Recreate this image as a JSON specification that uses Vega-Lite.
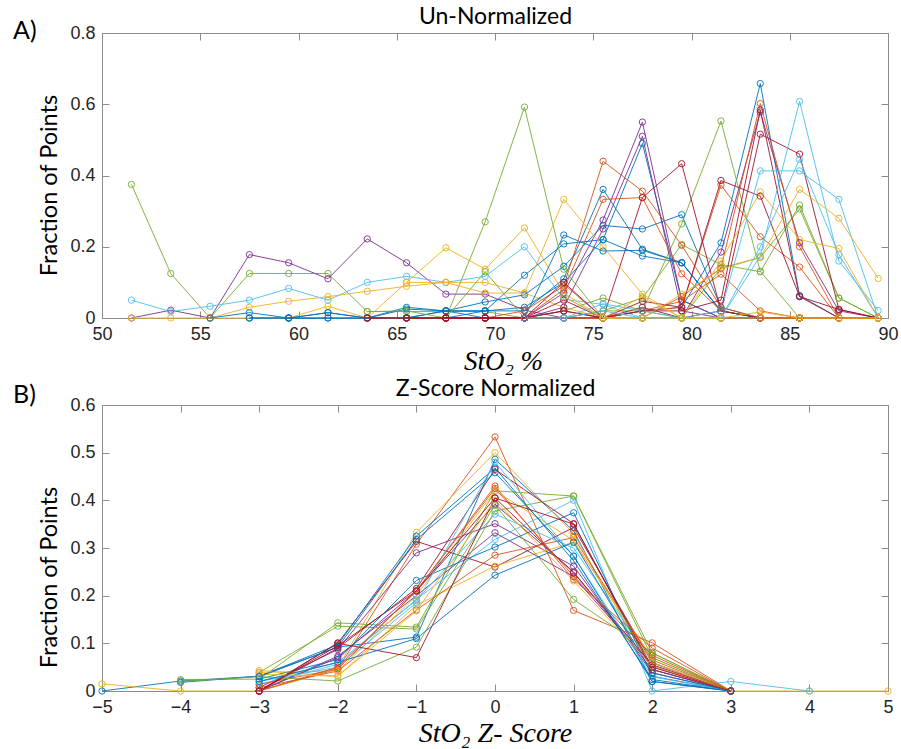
{
"$schema": "https://vega.github.io/schema/vega-lite/v6.json",
"background": "white",
"padding": {"left": 12, "top": 5, "right": 8, "bottom": 5},
"spacing": 2,
"resolve": {"scale": {"color": "independent"}},
"config": {
 "view": {"stroke": "#8c8c8c", "strokeWidth": 1},
 "axis": {"labelFont": "Liberation Sans", "labelFontSize": 18, "labelColor": "#262626", "tickColor": "#8c8c8c", "domain": false, "grid": false, "titleColor": "#000000", "labelFlush": false}
},
"datasets": {
"top": [
{"s":"G1","x":51.5,"y":0.375},{"s":"G1","x":53.5,"y":0.125},{"s":"G1","x":55.5,"y":0},{"s":"G1","x":57.5,"y":0.125},{"s":"G1","x":59.5,"y":0.125},{"s":"G1","x":61.5,"y":0.125},{"s":"G1","x":63.5,"y":0.018},{"s":"G1","x":65.5,"y":0.018},{"s":"G1","x":67.5,"y":0.018},{"s":"G1","x":69.5,"y":0.018},{"s":"G1","x":71.5,"y":0},{"s":"G1","x":73.5,"y":0},
{"s":"P1","x":51.5,"y":0},{"s":"P1","x":53.5,"y":0.022},{"s":"P1","x":55.5,"y":0},{"s":"P1","x":57.5,"y":0.178},{"s":"P1","x":59.5,"y":0.155},{"s":"P1","x":61.5,"y":0.11},{"s":"P1","x":63.5,"y":0.222},{"s":"P1","x":65.5,"y":0.155},{"s":"P1","x":67.5,"y":0.067},{"s":"P1","x":69.5,"y":0.067},{"s":"P1","x":71.5,"y":0.022},{"s":"P1","x":73.5,"y":0},{"s":"P1","x":75.5,"y":0},
{"s":"L1","x":51.5,"y":0.05},{"s":"L1","x":53.5,"y":0.018},{"s":"L1","x":55.5,"y":0.033},{"s":"L1","x":57.5,"y":0.05},{"s":"L1","x":59.5,"y":0.083},{"s":"L1","x":61.5,"y":0.05},{"s":"L1","x":63.5,"y":0.1},{"s":"L1","x":65.5,"y":0.117},{"s":"L1","x":67.5,"y":0.1},{"s":"L1","x":69.5,"y":0.117},{"s":"L1","x":71.5,"y":0.2},{"s":"L1","x":73.5,"y":0.053},{"s":"L1","x":75.5,"y":0.038},{"s":"L1","x":77.5,"y":0},{"s":"L1","x":79.5,"y":0},{"s":"L1","x":81.5,"y":0},{"s":"L1","x":83.5,"y":0},{"s":"L1","x":85.5,"y":0},
{"s":"Y1","x":51.5,"y":0},{"s":"Y1","x":53.5,"y":0},{"s":"Y1","x":55.5,"y":0},{"s":"Y1","x":57.5,"y":0.03},{"s":"Y1","x":59.5,"y":0.047},{"s":"Y1","x":61.5,"y":0.06},{"s":"Y1","x":63.5,"y":0.075},{"s":"Y1","x":65.5,"y":0.089},{"s":"Y1","x":67.5,"y":0.1},{"s":"Y1","x":69.5,"y":0.1},{"s":"Y1","x":71.5,"y":0.07},{"s":"Y1","x":73.5,"y":0.03},{"s":"Y1","x":75.5,"y":0},{"s":"Y1","x":77.5,"y":0},
{"s":"Y2","x":55.5,"y":0},{"s":"Y2","x":57.5,"y":0},{"s":"Y2","x":59.5,"y":0},{"s":"Y2","x":61.5,"y":0.033},{"s":"Y2","x":63.5,"y":0},{"s":"Y2","x":65.5,"y":0.1},{"s":"Y2","x":67.5,"y":0.197},{"s":"Y2","x":69.5,"y":0.137},{"s":"Y2","x":71.5,"y":0.253},{"s":"Y2","x":73.5,"y":0.07},{"s":"Y2","x":75.5,"y":0},{"s":"Y2","x":77.5,"y":0},{"s":"Y2","x":79.5,"y":0},
{"s":"B1","x":55.5,"y":0},{"s":"B1","x":57.5,"y":0.015},{"s":"B1","x":59.5,"y":0},{"s":"B1","x":61.5,"y":0.015},{"s":"B1","x":63.5,"y":0},{"s":"B1","x":65.5,"y":0.03},{"s":"B1","x":67.5,"y":0.02},{"s":"B1","x":69.5,"y":0.02},{"s":"B1","x":71.5,"y":0.02},{"s":"B1","x":73.5,"y":0.11},{"s":"B1","x":75.5,"y":0.361},{"s":"B1","x":77.5,"y":0.193},{"s":"B1","x":79.5,"y":0.155},{"s":"B1","x":81.5,"y":0.02},{"s":"B1","x":83.5,"y":0},{"s":"B1","x":85.5,"y":0},
{"s":"B2","x":57.5,"y":0},{"s":"B2","x":59.5,"y":0},{"s":"B2","x":61.5,"y":0},{"s":"B2","x":63.5,"y":0},{"s":"B2","x":65.5,"y":0},{"s":"B2","x":67.5,"y":0.02},{"s":"B2","x":69.5,"y":0.045},{"s":"B2","x":71.5,"y":0.065},{"s":"B2","x":73.5,"y":0.145},{"s":"B2","x":75.5,"y":0.26},{"s":"B2","x":77.5,"y":0.25},{"s":"B2","x":79.5,"y":0.29},{"s":"B2","x":81.5,"y":0.03},{"s":"B2","x":83.5,"y":0},{"s":"B2","x":85.5,"y":0},{"s":"B2","x":87.5,"y":0},
{"s":"B3","x":57.5,"y":0},{"s":"B3","x":59.5,"y":0},{"s":"B3","x":61.5,"y":0.015},{"s":"B3","x":63.5,"y":0},{"s":"B3","x":65.5,"y":0.025},{"s":"B3","x":67.5,"y":0.02},{"s":"B3","x":69.5,"y":0.02},{"s":"B3","x":71.5,"y":0.12},{"s":"B3","x":73.5,"y":0.208},{"s":"B3","x":75.5,"y":0.22},{"s":"B3","x":77.5,"y":0.174},{"s":"B3","x":79.5,"y":0.155},{"s":"B3","x":81.5,"y":0.02},{"s":"B3","x":83.5,"y":0},{"s":"B3","x":85.5,"y":0},
{"s":"B4","x":59.5,"y":0},{"s":"B4","x":61.5,"y":0},{"s":"B4","x":63.5,"y":0},{"s":"B4","x":65.5,"y":0},{"s":"B4","x":67.5,"y":0.02},{"s":"B4","x":69.5,"y":0},{"s":"B4","x":71.5,"y":0},{"s":"B4","x":73.5,"y":0.233},{"s":"B4","x":75.5,"y":0.188},{"s":"B4","x":77.5,"y":0.19},{"s":"B4","x":79.5,"y":0.155},{"s":"B4","x":81.5,"y":0.02},{"s":"B4","x":83.5,"y":0},{"s":"B4","x":85.5,"y":0},
{"s":"B5","x":63.5,"y":0},{"s":"B5","x":65.5,"y":0},{"s":"B5","x":67.5,"y":0},{"s":"B5","x":69.5,"y":0.02},{"s":"B5","x":71.5,"y":0.03},{"s":"B5","x":73.5,"y":0.1},{"s":"B5","x":75.5,"y":0.22},{"s":"B5","x":77.5,"y":0.49},{"s":"B5","x":79.5,"y":0.05},{"s":"B5","x":81.5,"y":0},{"s":"B5","x":83.5,"y":0},{"s":"B5","x":85.5,"y":0},
{"s":"B6","x":65.5,"y":0},{"s":"B6","x":67.5,"y":0},{"s":"B6","x":69.5,"y":0},{"s":"B6","x":71.5,"y":0},{"s":"B6","x":73.5,"y":0},{"s":"B6","x":75.5,"y":0},{"s":"B6","x":77.5,"y":0.02},{"s":"B6","x":79.5,"y":0.03},{"s":"B6","x":81.5,"y":0.211},{"s":"B6","x":83.5,"y":0.658},{"s":"B6","x":85.5,"y":0.063},{"s":"B6","x":87.5,"y":0},{"s":"B6","x":89.5,"y":0},
{"s":"G2","x":63.5,"y":0},{"s":"G2","x":65.5,"y":0},{"s":"G2","x":67.5,"y":0},{"s":"G2","x":69.5,"y":0.27},{"s":"G2","x":71.5,"y":0.592},{"s":"G2","x":73.5,"y":0.137},{"s":"G2","x":75.5,"y":0},{"s":"G2","x":77.5,"y":0},{"s":"G2","x":79.5,"y":0},{"s":"G2","x":81.5,"y":0},{"s":"G2","x":83.5,"y":0},
{"s":"G3","x":63.5,"y":0.018},{"s":"G3","x":65.5,"y":0.02},{"s":"G3","x":67.5,"y":0},{"s":"G3","x":69.5,"y":0.13},{"s":"G3","x":71.5,"y":0},{"s":"G3","x":73.5,"y":0.02},{"s":"G3","x":75.5,"y":0.056},{"s":"G3","x":77.5,"y":0.02},{"s":"G3","x":79.5,"y":0.264},{"s":"G3","x":81.5,"y":0.553},{"s":"G3","x":83.5,"y":0.131},{"s":"G3","x":85.5,"y":0},{"s":"G3","x":87.5,"y":0},{"s":"G3","x":89.5,"y":0},
{"s":"G4","x":65.5,"y":0},{"s":"G4","x":67.5,"y":0},{"s":"G4","x":69.5,"y":0},{"s":"G4","x":71.5,"y":0},{"s":"G4","x":73.5,"y":0},{"s":"G4","x":75.5,"y":0.02},{"s":"G4","x":77.5,"y":0.056},{"s":"G4","x":79.5,"y":0.206},{"s":"G4","x":81.5,"y":0.15},{"s":"G4","x":83.5,"y":0.13},{"s":"G4","x":85.5,"y":0.317},{"s":"G4","x":87.5,"y":0.056},{"s":"G4","x":89.5,"y":0},
{"s":"G5","x":69.5,"y":0},{"s":"G5","x":71.5,"y":0},{"s":"G5","x":73.5,"y":0},{"s":"G5","x":75.5,"y":0.02},{"s":"G5","x":77.5,"y":0.02},{"s":"G5","x":79.5,"y":0},{"s":"G5","x":81.5,"y":0.14},{"s":"G5","x":83.5,"y":0.17},{"s":"G5","x":85.5,"y":0.306},{"s":"G5","x":87.5,"y":0.056},{"s":"G5","x":89.5,"y":0},
{"s":"P2","x":67.5,"y":0},{"s":"P2","x":69.5,"y":0},{"s":"P2","x":71.5,"y":0},{"s":"P2","x":73.5,"y":0.07},{"s":"P2","x":75.5,"y":0.275},{"s":"P2","x":77.5,"y":0.55},{"s":"P2","x":79.5,"y":0.05},{"s":"P2","x":81.5,"y":0},{"s":"P2","x":83.5,"y":0},{"s":"P2","x":85.5,"y":0},{"s":"P2","x":87.5,"y":0},
{"s":"P3","x":67.5,"y":0},{"s":"P3","x":69.5,"y":0},{"s":"P3","x":71.5,"y":0},{"s":"P3","x":73.5,"y":0.03},{"s":"P3","x":75.5,"y":0.25},{"s":"P3","x":77.5,"y":0.51},{"s":"P3","x":79.5,"y":0.02},{"s":"P3","x":81.5,"y":0},{"s":"P3","x":83.5,"y":0},{"s":"P3","x":85.5,"y":0},
{"s":"P4","x":71.5,"y":0},{"s":"P4","x":73.5,"y":0},{"s":"P4","x":75.5,"y":0},{"s":"P4","x":77.5,"y":0},{"s":"P4","x":79.5,"y":0},{"s":"P4","x":81.5,"y":0.185},{"s":"P4","x":83.5,"y":0.578},{"s":"P4","x":85.5,"y":0.211},{"s":"P4","x":87.5,"y":0.02},{"s":"P4","x":89.5,"y":0},
{"s":"O1","x":67.5,"y":0},{"s":"O1","x":69.5,"y":0},{"s":"O1","x":71.5,"y":0.02},{"s":"O1","x":73.5,"y":0.09},{"s":"O1","x":75.5,"y":0.44},{"s":"O1","x":77.5,"y":0.356},{"s":"O1","x":79.5,"y":0.204},{"s":"O1","x":81.5,"y":0.03},{"s":"O1","x":83.5,"y":0},{"s":"O1","x":85.5,"y":0},
{"s":"O2","x":67.5,"y":0},{"s":"O2","x":69.5,"y":0},{"s":"O2","x":71.5,"y":0},{"s":"O2","x":73.5,"y":0.08},{"s":"O2","x":75.5,"y":0.333},{"s":"O2","x":77.5,"y":0.338},{"s":"O2","x":79.5,"y":0.124},{"s":"O2","x":81.5,"y":0.02},{"s":"O2","x":83.5,"y":0},{"s":"O2","x":85.5,"y":0},
{"s":"O3","x":69.5,"y":0},{"s":"O3","x":71.5,"y":0},{"s":"O3","x":73.5,"y":0},{"s":"O3","x":75.5,"y":0},{"s":"O3","x":77.5,"y":0.02},{"s":"O3","x":79.5,"y":0.03},{"s":"O3","x":81.5,"y":0.373},{"s":"O3","x":83.5,"y":0.228},{"s":"O3","x":85.5,"y":0.143},{"s":"O3","x":87.5,"y":0},{"s":"O3","x":89.5,"y":0},
{"s":"O4","x":71.5,"y":0},{"s":"O4","x":73.5,"y":0},{"s":"O4","x":75.5,"y":0},{"s":"O4","x":77.5,"y":0},{"s":"O4","x":79.5,"y":0.06},{"s":"O4","x":81.5,"y":0.14},{"s":"O4","x":83.5,"y":0.602},{"s":"O4","x":85.5,"y":0.2},{"s":"O4","x":87.5,"y":0},{"s":"O4","x":89.5,"y":0},
{"s":"O5","x":73.5,"y":0.095},{"s":"O5","x":75.5,"y":0},{"s":"O5","x":77.5,"y":0.02},{"s":"O5","x":79.5,"y":0.047},{"s":"O5","x":81.5,"y":0.123},{"s":"O5","x":83.5,"y":0.02},{"s":"O5","x":85.5,"y":0},{"s":"O5","x":87.5,"y":0},{"s":"O5","x":89.5,"y":0},
{"s":"R1","x":63.5,"y":0},{"s":"R1","x":65.5,"y":0},{"s":"R1","x":67.5,"y":0},{"s":"R1","x":69.5,"y":0},{"s":"R1","x":71.5,"y":0},{"s":"R1","x":73.5,"y":0.02},{"s":"R1","x":75.5,"y":0},{"s":"R1","x":77.5,"y":0.338},{"s":"R1","x":79.5,"y":0.433},{"s":"R1","x":81.5,"y":0.02},{"s":"R1","x":83.5,"y":0},{"s":"R1","x":85.5,"y":0},{"s":"R1","x":87.5,"y":0},{"s":"R1","x":89.5,"y":0},
{"s":"R2","x":63.5,"y":0},{"s":"R2","x":65.5,"y":0},{"s":"R2","x":67.5,"y":0},{"s":"R2","x":69.5,"y":0},{"s":"R2","x":71.5,"y":0},{"s":"R2","x":73.5,"y":0.1},{"s":"R2","x":75.5,"y":0},{"s":"R2","x":77.5,"y":0.047},{"s":"R2","x":79.5,"y":0.03},{"s":"R2","x":81.5,"y":0.386},{"s":"R2","x":83.5,"y":0.342},{"s":"R2","x":85.5,"y":0.06},{"s":"R2","x":87.5,"y":0},{"s":"R2","x":89.5,"y":0},
{"s":"R3","x":65.5,"y":0},{"s":"R3","x":67.5,"y":0},{"s":"R3","x":69.5,"y":0},{"s":"R3","x":71.5,"y":0},{"s":"R3","x":73.5,"y":0.02},{"s":"R3","x":75.5,"y":0},{"s":"R3","x":77.5,"y":0.02},{"s":"R3","x":79.5,"y":0.02},{"s":"R3","x":81.5,"y":0.05},{"s":"R3","x":83.5,"y":0.584},{"s":"R3","x":85.5,"y":0.06},{"s":"R3","x":87.5,"y":0.024},{"s":"R3","x":89.5,"y":0},
{"s":"R4","x":67.5,"y":0},{"s":"R4","x":69.5,"y":0},{"s":"R4","x":71.5,"y":0},{"s":"R4","x":73.5,"y":0.05},{"s":"R4","x":75.5,"y":0},{"s":"R4","x":77.5,"y":0.03},{"s":"R4","x":79.5,"y":0},{"s":"R4","x":81.5,"y":0.02},{"s":"R4","x":83.5,"y":0.516},{"s":"R4","x":85.5,"y":0.46},{"s":"R4","x":87.5,"y":0.024},{"s":"R4","x":89.5,"y":0},
{"s":"L2","x":71.5,"y":0},{"s":"L2","x":73.5,"y":0},{"s":"L2","x":75.5,"y":0.02},{"s":"L2","x":77.5,"y":0},{"s":"L2","x":79.5,"y":0},{"s":"L2","x":81.5,"y":0},{"s":"L2","x":83.5,"y":0.174},{"s":"L2","x":85.5,"y":0.608},{"s":"L2","x":87.5,"y":0.16},{"s":"L2","x":89.5,"y":0.021},
{"s":"L3","x":73.5,"y":0.06},{"s":"L3","x":75.5,"y":0},{"s":"L3","x":77.5,"y":0},{"s":"L3","x":79.5,"y":0},{"s":"L3","x":81.5,"y":0.02},{"s":"L3","x":83.5,"y":0.413},{"s":"L3","x":85.5,"y":0.413},{"s":"L3","x":87.5,"y":0.333},{"s":"L3","x":89.5,"y":0},
{"s":"L4","x":73.5,"y":0},{"s":"L4","x":75.5,"y":0.04},{"s":"L4","x":77.5,"y":0.02},{"s":"L4","x":79.5,"y":0},{"s":"L4","x":81.5,"y":0},{"s":"L4","x":83.5,"y":0.2},{"s":"L4","x":85.5,"y":0.445},{"s":"L4","x":87.5,"y":0.178},{"s":"L4","x":89.5,"y":0},
{"s":"Y3","x":65.5,"y":0.1},{"s":"Y3","x":67.5,"y":0.1},{"s":"Y3","x":69.5,"y":0.07},{"s":"Y3","x":71.5,"y":0.07},{"s":"Y3","x":73.5,"y":0.333},{"s":"Y3","x":75.5,"y":0.2},{"s":"Y3","x":77.5,"y":0.067},{"s":"Y3","x":79.5,"y":0},{"s":"Y3","x":81.5,"y":0},{"s":"Y3","x":83.5,"y":0},{"s":"Y3","x":85.5,"y":0},{"s":"Y3","x":87.5,"y":0},{"s":"Y3","x":89.5,"y":0},
{"s":"Y4","x":73.5,"y":0.06},{"s":"Y4","x":75.5,"y":0},{"s":"Y4","x":77.5,"y":0.06},{"s":"Y4","x":79.5,"y":0},{"s":"Y4","x":81.5,"y":0.16},{"s":"Y4","x":83.5,"y":0.354},{"s":"Y4","x":85.5,"y":0.22},{"s":"Y4","x":87.5,"y":0.195},{"s":"Y4","x":89.5,"y":0},
{"s":"Y5","x":75.5,"y":0},{"s":"Y5","x":77.5,"y":0},{"s":"Y5","x":79.5,"y":0.067},{"s":"Y5","x":81.5,"y":0.137},{"s":"Y5","x":83.5,"y":0.17},{"s":"Y5","x":85.5,"y":0.361},{"s":"Y5","x":87.5,"y":0.28},{"s":"Y5","x":89.5,"y":0.111},
{"s":"Y6","x":75.5,"y":0},{"s":"Y6","x":77.5,"y":0},{"s":"Y6","x":79.5,"y":0},{"s":"Y6","x":81.5,"y":0},{"s":"Y6","x":83.5,"y":0.017},{"s":"Y6","x":85.5,"y":0},{"s":"Y6","x":87.5,"y":0},{"s":"Y6","x":89.5,"y":0}
],
"bottom": [
{"s":"b01","x":-5,"y":0},{"s":"b01","x":-4,"y":0.021},{"s":"b01","x":-3,"y":0.031},{"s":"b01","x":-2,"y":0.092},{"s":"b01","x":-1,"y":0.113},{"s":"b01","x":0,"y":0.486},{"s":"b01","x":1,"y":0.336},{"s":"b01","x":2,"y":0.02},{"s":"b01","x":3,"y":0},
{"s":"b02","x":-3,"y":0},{"s":"b02","x":-2,"y":0.046},{"s":"b02","x":-1,"y":0.308},{"s":"b02","x":0,"y":0.533},{"s":"b02","x":1,"y":0.169},{"s":"b02","x":2,"y":0.101},{"s":"b02","x":3,"y":0},
{"s":"b03","x":-5,"y":0.015},{"s":"b03","x":-4,"y":0},{"s":"b03","x":-3,"y":0},{"s":"b03","x":-2,"y":0.049},{"s":"b03","x":-1,"y":0.333},{"s":"b03","x":0,"y":0.5},{"s":"b03","x":1,"y":0.33},{"s":"b03","x":2,"y":0.045},{"s":"b03","x":3,"y":0},{"s":"b03","x":4,"y":0},{"s":"b03","x":5,"y":0},
{"s":"b04","x":-3,"y":0.007},{"s":"b04","x":-2,"y":0.087},{"s":"b04","x":-1,"y":0.29},{"s":"b04","x":0,"y":0.351},{"s":"b04","x":1,"y":0.262},{"s":"b04","x":2,"y":0.038},{"s":"b04","x":3,"y":0},
{"s":"b05","x":-4,"y":0.024},{"s":"b05","x":-3,"y":0.025},{"s":"b05","x":-2,"y":0.143},{"s":"b05","x":-1,"y":0.134},{"s":"b05","x":0,"y":0.42},{"s":"b05","x":1,"y":0.409},{"s":"b05","x":2,"y":0.08},{"s":"b05","x":3,"y":0},
{"s":"b06","x":-3,"y":0.014},{"s":"b06","x":-2,"y":0.056},{"s":"b06","x":-1,"y":0.192},{"s":"b06","x":0,"y":0.318},{"s":"b06","x":1,"y":0.4},{"s":"b06","x":2,"y":0},{"s":"b06","x":3,"y":0.02},{"s":"b06","x":4,"y":0},
{"s":"b07","x":-3,"y":0},{"s":"b07","x":-2,"y":0.101},{"s":"b07","x":-1,"y":0.314},{"s":"b07","x":0,"y":0.26},{"s":"b07","x":1,"y":0.343},{"s":"b07","x":2,"y":0.059},{"s":"b07","x":3,"y":0},
{"s":"b08","x":-4,"y":0.018},{"s":"b08","x":-3,"y":0.031},{"s":"b08","x":-2,"y":0.097},{"s":"b08","x":-1,"y":0.325},{"s":"b08","x":0,"y":0.468},{"s":"b08","x":1,"y":0.273},{"s":"b08","x":2,"y":0.024},{"s":"b08","x":3,"y":0},
{"s":"b09","x":-3,"y":0.014},{"s":"b09","x":-2,"y":0.046},{"s":"b09","x":-1,"y":0.21},{"s":"b09","x":0,"y":0.43},{"s":"b09","x":1,"y":0.234},{"s":"b09","x":2,"y":0.09},{"s":"b09","x":3,"y":0},
{"s":"b10","x":-3,"y":0.043},{"s":"b10","x":-2,"y":0.031},{"s":"b10","x":-1,"y":0.18},{"s":"b10","x":0,"y":0.262},{"s":"b10","x":1,"y":0.312},{"s":"b10","x":2,"y":0.07},{"s":"b10","x":3,"y":0},
{"s":"b11","x":-3,"y":0},{"s":"b11","x":-2,"y":0.073},{"s":"b11","x":-1,"y":0.2},{"s":"b11","x":0,"y":0.332},{"s":"b11","x":1,"y":0.24},{"s":"b11","x":2,"y":0.052},{"s":"b11","x":3,"y":0},
{"s":"b12","x":-3,"y":0.039},{"s":"b12","x":-2,"y":0.136},{"s":"b12","x":-1,"y":0.13},{"s":"b12","x":0,"y":0.39},{"s":"b12","x":1,"y":0.192},{"s":"b12","x":2,"y":0.08},{"s":"b12","x":3,"y":0},
{"s":"b13","x":-3,"y":0.02},{"s":"b13","x":-2,"y":0.06},{"s":"b13","x":-1,"y":0.19},{"s":"b13","x":0,"y":0.371},{"s":"b13","x":1,"y":0.3},{"s":"b13","x":2,"y":0.06},{"s":"b13","x":3,"y":0},
{"s":"b14","x":-3,"y":0},{"s":"b14","x":-2,"y":0.09},{"s":"b14","x":-1,"y":0.215},{"s":"b14","x":0,"y":0.465},{"s":"b14","x":1,"y":0.351},{"s":"b14","x":2,"y":0.045},{"s":"b14","x":3,"y":0},
{"s":"b15","x":-3,"y":0.025},{"s":"b15","x":-2,"y":0.066},{"s":"b15","x":-1,"y":0.232},{"s":"b15","x":0,"y":0.302},{"s":"b15","x":1,"y":0.374},{"s":"b15","x":2,"y":0.031},{"s":"b15","x":3,"y":0},
{"s":"b16","x":-3,"y":0.007},{"s":"b16","x":-2,"y":0.042},{"s":"b16","x":-1,"y":0.17},{"s":"b16","x":0,"y":0.285},{"s":"b16","x":1,"y":0.322},{"s":"b16","x":2,"y":0.065},{"s":"b16","x":3,"y":0},
{"s":"b17","x":-3,"y":0.039},{"s":"b17","x":-2,"y":0.042},{"s":"b17","x":-1,"y":0.2},{"s":"b17","x":0,"y":0.42},{"s":"b17","x":1,"y":0.316},{"s":"b17","x":2,"y":0.06},{"s":"b17","x":3,"y":0},
{"s":"b18","x":-3,"y":0},{"s":"b18","x":-2,"y":0.07},{"s":"b18","x":-1,"y":0.21},{"s":"b18","x":0,"y":0.392},{"s":"b18","x":1,"y":0.25},{"s":"b18","x":2,"y":0.045},{"s":"b18","x":3,"y":0},
{"s":"b19","x":-4,"y":0.02},{"s":"b19","x":-3,"y":0.03},{"s":"b19","x":-2,"y":0.021},{"s":"b19","x":-1,"y":0.092},{"s":"b19","x":0,"y":0.378},{"s":"b19","x":1,"y":0.409},{"s":"b19","x":2,"y":0.07},{"s":"b19","x":3,"y":0},
{"s":"b20","x":-3,"y":0.02},{"s":"b20","x":-2,"y":0.05},{"s":"b20","x":-1,"y":0.185},{"s":"b20","x":0,"y":0.48},{"s":"b20","x":1,"y":0.283},{"s":"b20","x":2,"y":0.03},{"s":"b20","x":3,"y":0},
{"s":"b21","x":-3,"y":0},{"s":"b21","x":-2,"y":0.1},{"s":"b21","x":-1,"y":0.07},{"s":"b21","x":0,"y":0.405},{"s":"b21","x":1,"y":0.248},{"s":"b21","x":2,"y":0.055},{"s":"b21","x":3,"y":0},
{"s":"b22","x":-3,"y":0.02},{"s":"b22","x":-2,"y":0.06},{"s":"b22","x":-1,"y":0.11},{"s":"b22","x":0,"y":0.243},{"s":"b22","x":1,"y":0.312},{"s":"b22","x":2,"y":0.038},{"s":"b22","x":3,"y":0},
{"s":"b23","x":-3,"y":0},{"s":"b23","x":-2,"y":0.05},{"s":"b23","x":-1,"y":0.21},{"s":"b23","x":0,"y":0.425},{"s":"b23","x":1,"y":0.241},{"s":"b23","x":2,"y":0.075},{"s":"b23","x":3,"y":0},
{"s":"b24","x":-3,"y":0.035},{"s":"b24","x":-2,"y":0.031},{"s":"b24","x":-1,"y":0.168},{"s":"b24","x":0,"y":0.4},{"s":"b24","x":1,"y":0.231},{"s":"b24","x":2,"y":0.052},{"s":"b24","x":3,"y":0},
{"s":"b25","x":-3,"y":0.03},{"s":"b25","x":-2,"y":0.092},{"s":"b25","x":-1,"y":0.318},{"s":"b25","x":0,"y":0.458},{"s":"b25","x":1,"y":0.283},{"s":"b25","x":2,"y":0.02},{"s":"b25","x":3,"y":0},
{"s":"b26","x":-3,"y":0},{"s":"b26","x":-2,"y":0.095},{"s":"b26","x":-1,"y":0.21},{"s":"b26","x":0,"y":0.405},{"s":"b26","x":1,"y":0.35},{"s":"b26","x":2,"y":0.05},{"s":"b26","x":3,"y":0}
]
},
"vconcat": [
{
 "title": {"text": "A)", "anchor": "start", "frame": "bounds", "font": "Lato", "fontSize": 25, "fontWeight": "normal", "color": "#000000", "offset": -38, "dx": -25},
 "width": 786, "height": 285,
 "data": {"name": "top"},
 "layer": [
  {"mark": {"type": "line", "strokeWidth": 1, "opacity": 0.9},
   "encoding": {
    "x": {"field": "x", "type": "quantitative", "scale": {"domain": [50, 90], "nice": false, "zero": false},
          "axis": {"orient": "bottom", "values": [50,55,60,65,70,75,80,85,90], "tickSize": -7, "labelPadding": 14, "title": "StO₂ %", "titleFont": "Liberation Serif", "titleFontStyle": "italic", "titleFontSize": 27, "titleFontWeight": "normal", "titlePadding": 5, "titleX": 401}},
    "y": {"field": "y", "type": "quantitative", "scale": {"domain": [0, 0.8], "nice": false},
          "axis": {"orient": "left", "values": [0,0.2,0.4,0.6,0.8], "labelExpr": "datum.value == 0 ? '0' : format(datum.value, '.1f')", "tickSize": -7, "labelPadding": 14, "title": "Fraction of Points", "titleFont": "Lato", "titleFontSize": 23.5, "titleFontWeight": "normal", "titlePadding": 8, "titleY": 152}},
    "color": {"field": "s", "type": "nominal", "legend": null,
      "scale": {"domain": ["B1","B2","B3","B4","B5","B6","O1","O2","O3","O4","O5","Y1","Y2","Y3","Y4","Y5","Y6","P1","P2","P3","P4","G1","G2","G3","G4","G5","L1","L2","L3","L4","R1","R2","R3","R4"],
                "range": ["#0072BD","#0072BD","#0072BD","#0072BD","#0072BD","#0072BD","#D95319","#D95319","#D95319","#D95319","#D95319","#EDB120","#EDB120","#EDB120","#EDB120","#EDB120","#EDB120","#7E2F8E","#7E2F8E","#7E2F8E","#7E2F8E","#77AC30","#77AC30","#77AC30","#77AC30","#77AC30","#4DBEEE","#4DBEEE","#4DBEEE","#4DBEEE","#A2142F","#A2142F","#A2142F","#A2142F"]}}
   }},
  {"mark": {"type": "point", "shape": "circle", "filled": false, "size": 40, "strokeWidth": 1, "opacity": 0.9},
   "encoding": {
    "x": {"field": "x", "type": "quantitative", "axis": {"orient": "top", "values": [50,55,60,65,70,75,80,85,90], "labels": false, "tickSize": -7, "title": "Un-Normalized", "titleFont": "Lato", "titleFontSize": 23, "titleFontWeight": "normal", "titlePadding": 4}},
    "y": {"field": "y", "type": "quantitative", "axis": {"orient": "right", "values": [0,0.2,0.4,0.6,0.8], "labels": false, "tickSize": -7, "title": null}},
    "color": {"field": "s", "type": "nominal", "legend": null}
   }}
 ],
 "resolve": {"axis": {"x": "independent", "y": "independent"}}
},
{
 "title": {"text": "B)", "anchor": "start", "frame": "bounds", "font": "Lato", "fontSize": 25, "fontWeight": "normal", "color": "#000000", "offset": -30, "dx": -25},
 "width": 786, "height": 286,
 "data": {"name": "bottom"},
 "layer": [
  {"mark": {"type": "line", "strokeWidth": 1, "opacity": 0.9},
   "encoding": {
    "x": {"field": "x", "type": "quantitative", "scale": {"domain": [-5, 5], "nice": false, "zero": false},
          "axis": {"orient": "bottom", "values": [-5,-4,-3,-2,-1,0,1,2,3,4,5], "tickSize": -7, "labelPadding": 14, "title": "StO₂ Z- Score", "titleFont": "Liberation Serif", "titleFontStyle": "italic", "titleFontSize": 28, "titleFontWeight": "normal", "titlePadding": 3}},
    "y": {"field": "y", "type": "quantitative", "scale": {"domain": [0, 0.6], "nice": false},
          "axis": {"orient": "left", "values": [0,0.1,0.2,0.3,0.4,0.5,0.6], "labelExpr": "datum.value == 0 ? '0' : format(datum.value, '.1f')", "tickSize": -7, "labelPadding": 14, "title": "Fraction of Points", "titleFont": "Lato", "titleFontSize": 23.5, "titleFontWeight": "normal", "titlePadding": 8, "titleY": 172}},
    "color": {"field": "s", "type": "nominal", "legend": null,
      "scale": {"domain": ["b01","b02","b03","b04","b05","b06","b07","b08","b09","b10","b11","b12","b13","b14","b15","b16","b17","b18","b19","b20","b21","b22","b23","b24","b25","b26"],
                "range": ["#0072BD","#D95319","#EDB120","#7E2F8E","#77AC30","#4DBEEE","#A2142F","#0072BD","#D95319","#EDB120","#7E2F8E","#77AC30","#4DBEEE","#A2142F","#0072BD","#D95319","#EDB120","#7E2F8E","#77AC30","#4DBEEE","#A2142F","#0072BD","#D95319","#EDB120","#0072BD","#A2142F"]}}
   }},
  {"mark": {"type": "point", "shape": "circle", "filled": false, "size": 40, "strokeWidth": 1, "opacity": 0.9},
   "encoding": {
    "x": {"field": "x", "type": "quantitative", "axis": {"orient": "top", "values": [-5,-4,-3,-2,-1,0,1,2,3,4,5], "labels": false, "tickSize": -7, "title": "Z-Score Normalized", "titleFont": "Lato", "titleFontSize": 23, "titleFontWeight": "normal", "titlePadding": 4}},
    "y": {"field": "y", "type": "quantitative", "axis": {"orient": "right", "values": [0,0.1,0.2,0.3,0.4,0.5,0.6], "labels": false, "tickSize": -7, "title": null}},
    "color": {"field": "s", "type": "nominal", "legend": null}
   }}
 ],
 "resolve": {"axis": {"x": "independent", "y": "independent"}}
}
]
}
